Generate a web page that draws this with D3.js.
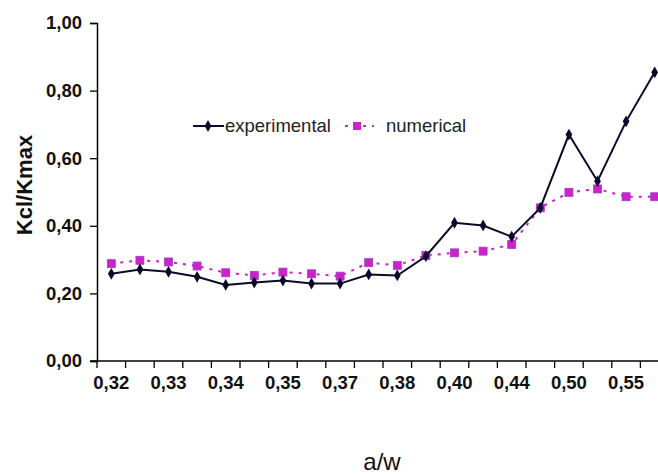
<!DOCTYPE html>
<html><head><meta charset="utf-8">
<script src="https://cdn.jsdelivr.net/npm/d3@7"></script>
<style>
html,body{margin:0;padding:0;background:#fff;overflow:hidden;}
svg{display:block;}
</style></head>
<body>
<svg id="chart" width="658" height="474"></svg>
<script>
const categories = ["0,32","0,325","0,33","0,335","0,34","0,345","0,35","0,36","0,37","0,375","0,38","0,39","0,40","0,42","0,44","0,47","0,50","0,52","0,55","0,57"];
const shownLabels = ["0,32","0,33","0,34","0,35","0,37","0,38","0,40","0,44","0,50","0,55"];
const experimental = [0.258,0.271,0.264,0.249,0.225,0.232,0.238,0.229,0.229,0.256,0.253,0.310,0.409,0.401,0.368,0.453,0.670,0.532,0.709,0.854];
const numerical = [0.288,0.298,0.293,0.281,0.261,0.253,0.263,0.258,0.251,0.291,0.283,0.312,0.320,0.325,0.345,0.453,0.499,0.509,0.486,0.486];
const yTicks = [0,0.2,0.4,0.6,0.8,1.0];
const seriesNames = ["experimental","numerical"];

(function(){
const svg = d3.select("#chart");
const mLeft = 97, mRight = 669, mTop = 23, mBottom = 361;
const x = d3.scaleBand().domain(categories).range([mLeft, mRight]);
const y = d3.scaleLinear().domain([0,1]).range([mBottom, mTop]);
const fmt = d => d.toFixed(2).replace(".", ",");
const FF = "Liberation Sans, Arial, sans-serif";

// Y axis
const yAxis = svg.append("g").attr("transform", `translate(${mLeft},0)`)
  .call(d3.axisLeft(y).tickValues(yTicks).tickSize(7).tickPadding(8).tickFormat(fmt));
yAxis.select(".domain").attr("stroke","#000").attr("stroke-width",1.5);
yAxis.selectAll(".tick line").attr("stroke","#000").attr("stroke-width",1.3);
yAxis.selectAll("text").attr("font-family",FF)
  .attr("font-weight","bold").attr("font-size","18.5px").attr("fill","#111");

// X axis (ticks on band boundaries, labels every other category)
const xAxis = svg.append("g").attr("transform", `translate(0,${mBottom})`)
  .call(d3.axisBottom(x).tickValues(categories.filter((c,i)=>i%2===0)).tickSize(0).tickPadding(15)
    .tickFormat(c => shownLabels[categories.indexOf(c)/2]));
xAxis.select(".domain").remove();
xAxis.selectAll("text").attr("font-family",FF)
  .attr("font-weight","bold").attr("font-size","18.5px").attr("fill","#111");
svg.append("line").attr("x1",mLeft-7).attr("x2",mRight).attr("y1",mBottom).attr("y2",mBottom)
  .attr("stroke","#000").attr("stroke-width",1.5);
const bounds = categories.map(c => x(c)).concat([x(categories[categories.length-1]) + x.bandwidth()]);
svg.append("g").selectAll("line").data(bounds).join("line")
  .attr("x1",d=>d).attr("x2",d=>d).attr("y1",mBottom).attr("y2",mBottom+7)
  .attr("stroke","#000").attr("stroke-width",1.3);

const cx = (d,i) => x(categories[i]) + x.bandwidth()/2;

// numerical series
const numColor = "#cc22cc";
svg.append("path").datum(numerical)
  .attr("d", d3.line().x(cx).y(d=>y(d)))
  .attr("fill","none").attr("stroke",numColor).attr("stroke-width",2).attr("stroke-dasharray","3,6");
svg.append("g").selectAll("rect").data(numerical).join("rect")
  .attr("x",(d,i)=>cx(d,i)-4).attr("y",d=>y(d)-4).attr("width",8).attr("height",8)
  .attr("fill",numColor).attr("stroke","#a040c0").attr("stroke-width",0.8);

// experimental series
const expColor = "#0a0a2a";
svg.append("path").datum(experimental)
  .attr("d", d3.line().x(cx).y(d=>y(d)))
  .attr("fill","none").attr("stroke",expColor).attr("stroke-width",2);
const diamond = d3.symbol().type(d3.symbolDiamond).size(40);
svg.append("g").selectAll("path").data(experimental).join("path")
  .attr("d", diamond).attr("transform",(d,i)=>`translate(${cx(d,i)},${y(d)})`)
  .attr("fill",expColor);

// legend
const lg = svg.append("g").attr("font-family",FF).attr("font-size","18.5px");
lg.append("line").attr("x1",193).attr("x2",224).attr("y1",126).attr("y2",126).attr("stroke",expColor).attr("stroke-width",2);
lg.append("path").attr("d",diamond).attr("transform","translate(208,126)").attr("fill",expColor);
lg.append("text").attr("x",225).attr("y",132).text(seriesNames[0]).attr("fill","#222");
lg.append("line").attr("x1",344).attr("x2",374).attr("y1",126).attr("y2",126).attr("stroke",numColor).attr("stroke-width",2).attr("stroke-dasharray","3,6").attr("stroke-dashoffset",-1);
lg.append("rect").attr("x",353).attr("y",122).attr("width",8).attr("height",8).attr("fill",numColor);
lg.append("text").attr("x",386).attr("y",132).text(seriesNames[1]).attr("fill","#222");

// axis titles
svg.append("text").attr("transform","translate(32,185) rotate(-90)").attr("text-anchor","middle")
  .attr("font-family",FF).attr("font-weight","bold").attr("font-size","22px")
  .attr("fill","#111").text("Kcl/Kmax");
svg.append("text").attr("x",382).attr("y",470).attr("text-anchor","middle")
  .attr("font-family",FF).attr("font-size","24px")
  .attr("fill","#111").text("a/w");
})();
</script>
</body></html>
